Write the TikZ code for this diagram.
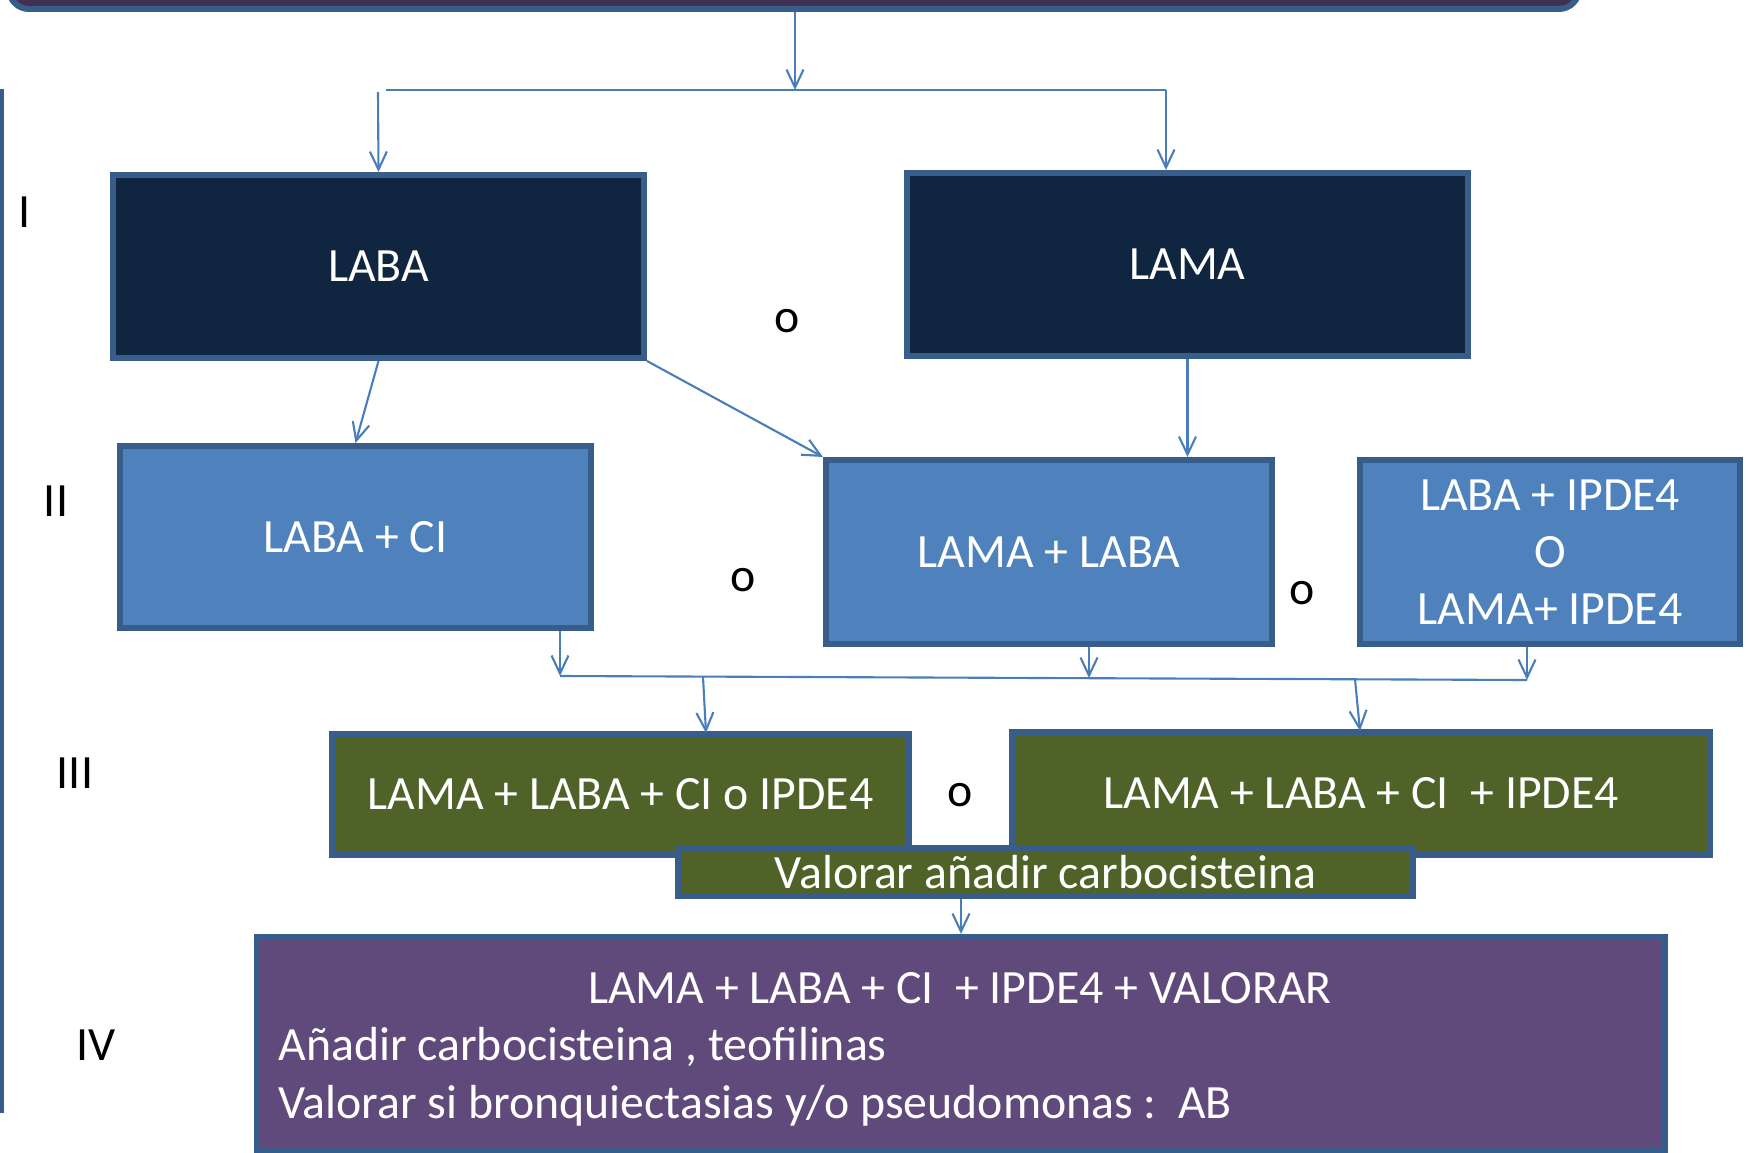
\documentclass[tikz,border=0pt]{standalone}
\usepackage{fontspec}
\setmainfont{Carlito}
\usetikzlibrary{arrows.meta,calc}
\definecolor{navy}{HTML}{10253F}
\definecolor{midblue}{HTML}{4F81BD}
\definecolor{olive}{HTML}{4F6228}
\definecolor{plum}{HTML}{604A7B}
\definecolor{deepplum}{HTML}{403152}
\definecolor{edge}{HTML}{385D8A}
\definecolor{link}{HTML}{4A7EBB}

\begin{document}
\begin{tikzpicture}[x=0.02cm,y=-0.02cm,
  every node/.style={font=\fontsize{27.2}{32.4}\selectfont},
  box/.style 2 args={draw=edge, line width=3.4pt, text=white, inner sep=0pt,
    minimum width=#1*0.02cm, minimum height=#2*0.02cm, align=center},
  arr/.style={draw=link, line width=1.2pt, -{Straight Barb[length=0.36cm,width=0.34cm]}},
  lnk/.style={draw=link, line width=1.2pt},
  tag/.style={text=black, inner sep=0pt}]

\useasboundingbox (0,0) rectangle (1749,1153);
\clip (0,0) rectangle (1749,1153);

% rail on the left
\draw[edge, line width=2.6pt] (2,89) -- (2,1113);

% level headings
\node[tag] (lv1) at (25,212) {I};
\node[tag] (lv2) at (56,501) {II};
\node[tag] (lv3) at (75,773) {III};
\node[tag] (lv4) at (96,1045) {IV};

% boxes
\node[box={1570}{69}, fill=deepplum, rounded corners=0.4cm] (top) at (794,-25.5) {};

\node[box={531}{183}, fill=navy] (laba) at (378.5,266.5) {LABA};
\node[box={561}{183}, fill=navy] (lama) at (1187.5,264.5) {LAMA};

\node[box={471}{182}, fill=midblue] (labaci) at (355.5,537) {LABA + CI};
\node[box={446}{184}, fill=midblue] (lamalaba) at (1049,552) {LAMA + LABA};
\node[box={380}{184}, fill=midblue] (ipde) at (1550,552) {LABA + IPDE4\\O\\LAMA+ IPDE4};

\node[box={577}{121}, fill=olive] (g1) at (620.5,794.5) {LAMA + LABA + CI o IPDE4};
\node[box={698}{123}, fill=olive] (g2) at (1361,793.5) {LAMA + LABA + CI\ \ + IPDE4};
\node[box={735}{48}, fill=olive] (val) at (1045.5,872) {Valorar añadir carbocisteina};

\node[box={1408}{213}, fill=plum] (last) at (961,1043.5) {};
\node[text=white, inner sep=0pt, anchor=base] (l1) at (960,1003) {LAMA + LABA + CI\ \ + IPDE4 + VALORAR};
\node[text=white, inner sep=0pt, anchor=base west] (l2) at (278,1060) {Añadir carbocisteina , teofilinas};
\node[text=white, inner sep=0pt, anchor=base west] (l3) at (278,1118) {Valorar si bronquiectasias y/o pseudomonas :\ \ AB};

% alternatives
\node[tag] (o1) at (787,321) {o};
\node[tag] (o2) at (743,580) {o};
\node[tag] (o3) at (1302,593) {o};
\node[tag] (o4) at (960,795) {o};

% junctions
\coordinate (j0) at (795,90);
\coordinate (jl) at (386,90);
\coordinate (jr) at (1166,90);
\coordinate (jd) at (378,92);
\coordinate (b1) at (560,676);
\coordinate (b2) at (1089,678);
\coordinate (b3) at (1527,680);
\coordinate (c1) at (703,677);
\coordinate (c2) at (1355,679);
\coordinate (t1) at (706,733);
\coordinate (t2) at (1360,731);

% connectors
\draw[arr] (top.south -| j0) -- (j0);
\draw[lnk] (jl) -- (jr);
\draw[arr] (jd) -- (laba.north);
\draw[arr] (jr) -- (lama.north -| jr);

\draw[arr] (laba.south) -- (labaci.north);
\draw[arr] (laba.south east) -- (lamalaba.north west);
\draw[arr] (lama.south) -- (lama.south |- lamalaba.north);

\draw[arr] (labaci.south -| b1) -- (b1);
\draw[arr] (lamalaba.south -| b2) -- (b2);
\draw[arr] (ipde.south -| b3) -- (b3);
\draw[lnk] (b1) -- (b3);
\draw[arr] (c1) -- (t1);
\draw[arr] (c2) -- (t2);

\draw[arr] (val.south -| last.north) -- (last.north);
\end{tikzpicture}
\end{document}
